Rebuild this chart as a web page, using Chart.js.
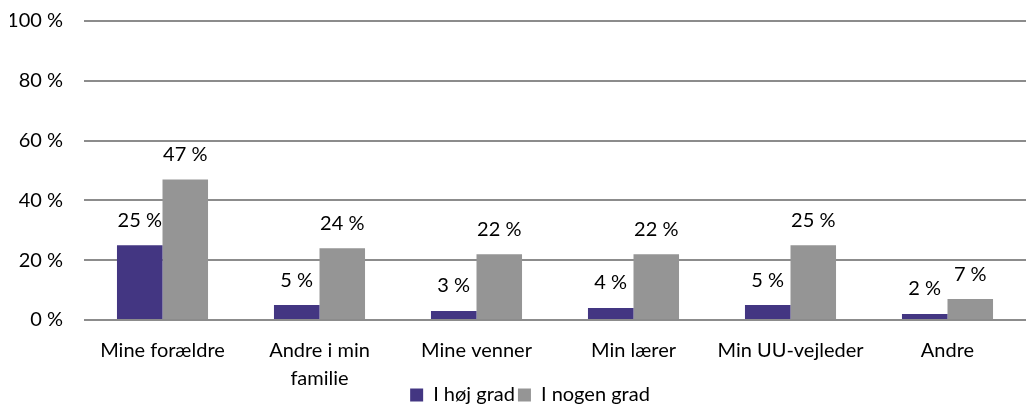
<!DOCTYPE html>
<html>
<head>
<meta charset="utf-8">
<script src="https://cdn.jsdelivr.net/npm/chart.js@4/dist/chart.umd.min.js"></script>
<style>
html,body{margin:0;padding:0;background:#fff;}
#wrap{width:1027px;height:406px;}
</style>
</head>
<body>
<div id="wrap"><canvas id="c" width="1027" height="406"></canvas></div>
<script>
const categories = [["Mine forældre"], ["Andre i min", "familie"], ["Mine venner"], ["Min lærer"], ["Min UU-vejleder"], ["Andre"]];
const seriesNames = ["I høj grad", "I nogen grad"];
const hojGrad = [25, 5, 3, 4, 5, 2];
const nogenGrad = [47, 24, 22, 22, 25, 7];
const yTicks = [0, 20, 40, 60, 80, 100];

const FONT = "Lato, 'Noto Sans', sans-serif";
const FS = 20;

const labelPlugin = {
  id: 'valLabels',
  afterLayout(chart) {
    const xs = chart.scales.x;
    xs.bottom = chart.height;
    const lg = chart.legend;
    if (lg) { lg.top += 9; lg.bottom += 9; lg.left += 12; lg.right += 12; }
  },
  afterDatasetsDraw(chart) {
    const ctx = chart.ctx;
    ctx.save();
    ctx.font = FS + "px " + FONT;
    ctx.fillStyle = "#000";
    ctx.textAlign = "center";
    ctx.textBaseline = "middle";
    chart.data.datasets.forEach((ds, i) => {
      const meta = chart.getDatasetMeta(i);
      meta.data.forEach((el, j) => {
        ctx.fillText(ds.data[j] + " %", el.x, el.y - 25);
      });
    });
    ctx.restore();
  }
};

new Chart(document.getElementById('c'), {
  type: 'bar',
  data: {
    labels: categories,
    datasets: [
      { label: seriesNames[0], data: hojGrad, backgroundColor: '#433682', categoryPercentage: 0.58, barPercentage: 1.0 },
      { label: seriesNames[1], data: nogenGrad, backgroundColor: '#959595', categoryPercentage: 0.58, barPercentage: 1.0 }
    ]
  },
  options: {
    responsive: false,
    animation: false,
    devicePixelRatio: 1,
    layout: { padding: { top: 21, right: 1, left: 10, bottom: 0 } },
    plugins: {
      legend: {
        position: 'bottom',
        labels: { boxWidth: 13, boxHeight: 13, font: { family: FONT, size: FS }, color: '#000', padding: 3 }
      },
      tooltip: { enabled: false }
    },
    scales: {
      x: {
        grid: { display: false },
        border: { display: false },
        ticks: { font: { family: FONT, size: FS, lineHeight: 1.4 }, color: '#000', maxRotation: 0, padding: 9 },
        afterFit(axis) { axis.height = 53; axis.paddingLeft = 0; axis.paddingRight = 0; }
      },
      y: {
        min: 0, max: 100,
        afterBuildTicks(axis) { axis.ticks = yTicks.map(v => ({ value: v })); },
        grid: { color: '#8c8c8c', lineWidth: 2, drawTicks: false },
        border: { display: false },
        ticks: { font: { family: FONT, size: FS }, color: '#000', padding: 21, callback: v => v + " %" },
        afterFit(axis) { axis.width = 74; axis.paddingTop = 0; axis.paddingBottom = 0; }
      }
    }
  },
  plugins: [labelPlugin]
});
</script>
</body>
</html>
